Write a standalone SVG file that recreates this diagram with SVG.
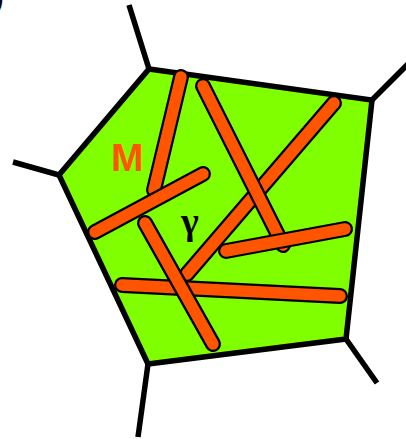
<svg xmlns="http://www.w3.org/2000/svg" width="406" height="439" viewBox="0 0 406 439">
<style>
.edge{stroke:#000;stroke-width:5.5;fill:none;stroke-linecap:butt}
.cell{fill:#80FF00;stroke:#000;stroke-width:5.5;stroke-linejoin:miter}
.ro{stroke:#000;stroke-width:16;stroke-linecap:round}
.ri{stroke:#FF5500;stroke-width:11.5;stroke-linecap:round}
</style>
<rect width="406" height="439" fill="#fff"/>
<text x="-6" y="8" font-family="Liberation Sans, Arial, sans-serif" font-size="30" fill="#000">)</text>
<g id="connectors">
<line class="edge" x1="149" y1="69" x2="129" y2="5"/>
<line class="edge" x1="372" y1="100" x2="410" y2="62"/>
<line class="edge" x1="346" y1="339" x2="377" y2="383"/>
<line class="edge" x1="148" y1="364" x2="138" y2="437"/>
<line class="edge" x1="59" y1="175" x2="13" y2="162"/>
</g>
<g id="cell">
<polygon class="cell" points="149,69 372,100 346,339 148,364 59,175"/>
</g>
<g id="rod1"><line class="ro" x1="181" y1="77" x2="154" y2="190"/><line class="ri" x1="181" y1="77" x2="154" y2="190"/></g>
<g id="rod4"><line class="ro" x1="95" y1="232" x2="203" y2="174"/><line class="ri" x1="95" y1="232" x2="203" y2="174"/></g>
<g id="rod3"><line class="ro" x1="334" y1="103" x2="187" y2="274"/><line class="ri" x1="334" y1="103" x2="187" y2="274"/></g>
<g id="rod2"><line class="ro" x1="203" y1="86" x2="283" y2="245"/><line class="ri" x1="203" y1="86" x2="283" y2="245"/></g>
<g id="rod7"><line class="ro" x1="226" y1="251" x2="345" y2="229"/><line class="ri" x1="226" y1="251" x2="345" y2="229"/></g>
<g id="rod6"><line class="ro" x1="122" y1="285" x2="340" y2="296"/><line class="ri" x1="122" y1="285" x2="340" y2="296"/></g>
<g id="rod5"><line class="ro" x1="145" y1="223" x2="213" y2="344"/><line class="ri" x1="145" y1="223" x2="213" y2="344"/></g>
<g id="labels">
<text x="181" y="234" font-family="Liberation Serif, Times New Roman, serif" font-weight="bold" font-size="38" fill="#000">γ</text>
<text x="111" y="171" font-family="Liberation Sans, Arial, sans-serif" font-weight="bold" font-size="39" fill="#FF5500">M</text>
</g>
</svg>
